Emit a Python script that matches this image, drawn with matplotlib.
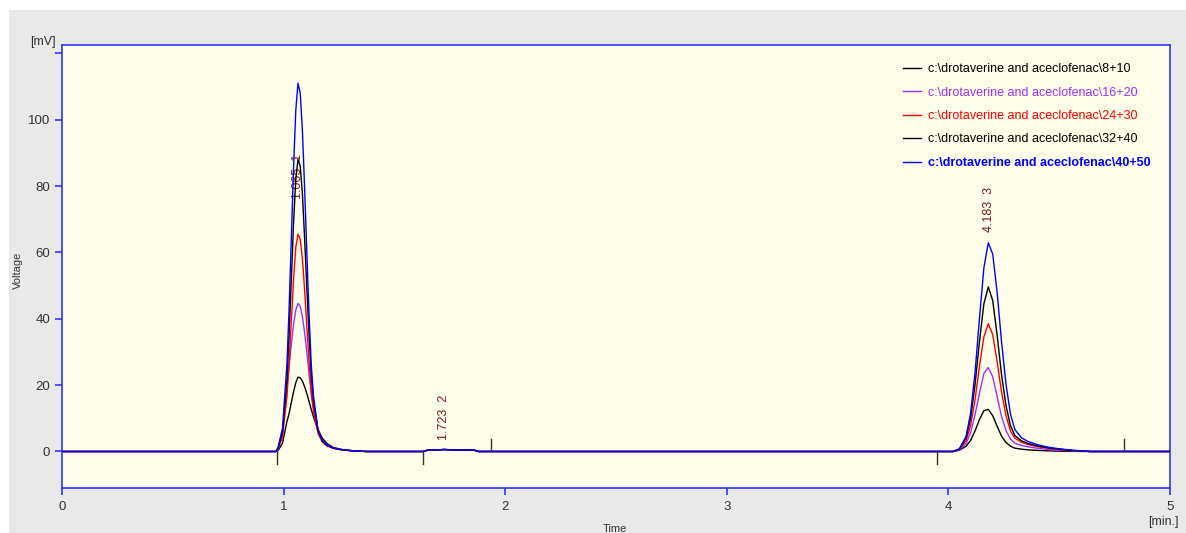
import matplotlib.pyplot as plt
from matplotlib.patches import Rectangle

# ------------------------------------------------------------
# Chromatogram: drotaverine and aceclofenac, 5 concentrations
# ------------------------------------------------------------

series_names = ['c:\\drotaverine and aceclofenac\\8+10',
                'c:\\drotaverine and aceclofenac\\16+20',
                'c:\\drotaverine and aceclofenac\\24+30',
                'c:\\drotaverine and aceclofenac\\32+40',
                'c:\\drotaverine and aceclofenac\\40+50']
series_colors = ['#000000', '#9b30ff', '#ff0000', '#000000', '#0000ff']

# flat baseline before the first peak
base_time = [0.0, 0.965]
base_volt = [0.0, 0.0]

# peak 1 (around 1.065 min)
pk1_time = [0.975, 0.995, 1.015, 1.025, 1.035, 1.045, 1.055, 1.065, 1.075,
            1.085, 1.095, 1.105, 1.115, 1.125, 1.135, 1.155, 1.175, 1.195,
            1.225, 1.265, 1.315, 1.375]
pk1_8_10 = [0.3, 2.5, 9.0, 11.5, 14.8, 18.0, 20.7, 22.4, 22.2, 21.2, 19.5,
            17.4, 15.0, 12.6, 10.4, 6.6, 4.0, 2.4, 1.2, 0.5, 0.2, 0.0]
pk1_16_20 = [0.5, 6.0, 19.2, 25.7, 32.4, 38.4, 42.6, 44.6, 43.8, 40.7, 35.7,
             29.7, 23.2, 17.2, 12.9, 6.2, 3.1, 1.8, 1.0, 0.45, 0.2, 0.0]
pk1_24_30 = [0.8, 4.5, 16.5, 27.0, 39.5, 52.0, 61.5, 65.5, 64.0, 58.0, 48.5,
             37.5, 27.0, 18.0, 12.0, 5.5, 2.8, 1.7, 0.9, 0.5, 0.2, 0.0]
pk1_32_40 = [1.0, 5.8, 21.5, 35.5, 52.0, 69.0, 82.0, 88.0, 86.0, 77.5, 64.0,
             49.0, 35.0, 23.0, 15.0, 6.5, 3.2, 1.9, 1.0, 0.5, 0.2, 0.0]
pk1_40_50 = [1.2, 7.0, 26.2, 43.3, 64.3, 85.7, 102.8, 111.0, 108.0, 96.5,
             79.0, 59.4, 41.0, 25.9, 16.7, 6.7, 3.3, 2.0, 1.1, 0.6, 0.2, 0.0]

# peak 2 (tiny, 1.723 min) - same for all runs
pk2_time = [1.63, 1.65, 1.70, 1.723, 1.76, 1.86, 1.88]
pk2_volt = [0.0, 0.4, 0.5, 0.6, 0.5, 0.4, 0.0]

# peak 3 (around 4.183 min)
pk3_time = [4.02, 4.05, 4.08, 4.10, 4.12, 4.14, 4.16, 4.18, 4.20, 4.22, 4.24,
            4.26, 4.28, 4.30, 4.33, 4.36, 4.40, 4.45, 4.50, 4.56, 4.64]
pk3_8_10 = [0.0, 0.4, 1.6, 3.3, 6.2, 9.6, 12.3, 12.7, 10.8, 7.6, 4.6, 2.7,
            1.6, 1.0, 0.7, 0.5, 0.35, 0.2, 0.1, 0.05, 0.0]
pk3_16_20 = [0.0, 0.5, 2.4, 5.6, 11.0, 17.5, 23.5, 25.3, 22.5, 16.5, 10.5,
             6.3, 3.8, 2.5, 1.8, 1.4, 1.0, 0.6, 0.4, 0.2, 0.0]
pk3_24_30 = [0.0, 0.6, 3.3, 7.8, 15.5, 25.6, 34.5, 38.5, 35.2, 27.0, 17.8,
             10.8, 6.2, 4.0, 2.8, 2.1, 1.5, 1.0, 0.6, 0.3, 0.0]
pk3_32_40 = [0.0, 0.8, 4.2, 10.0, 20.0, 33.0, 44.5, 49.6, 45.5, 35.0, 23.0,
             13.8, 7.8, 4.8, 3.2, 2.4, 1.7, 1.1, 0.7, 0.3, 0.0]
pk3_40_50 = [0.0, 0.8, 4.6, 11.5, 23.6, 39.9, 55.3, 62.9, 59.5, 47.9, 32.9,
             20.2, 11.3, 6.6, 4.1, 3.0, 2.1, 1.3, 0.8, 0.4, 0.0]

pk1_all = [pk1_8_10, pk1_16_20, pk1_24_30, pk1_32_40, pk1_40_50]
pk3_all = [pk3_8_10, pk3_16_20, pk3_24_30, pk3_32_40, pk3_40_50]

# peak labels: (time, bottom of text in mV, text)
peak_labels = [(1.065, 76, '1.065  1'), (1.723, 3.6, '1.723  2'), (4.183, 66, '4.183  3')]
# integration marks: (time, direction)
mark_times = [0.969, 1.628, 1.935, 3.947, 4.791]
mark_dirs = [-1, -1, 1, -1, 1]

plt.rcParams['font.family'] = ['Liberation Sans', 'DejaVu Sans']

fig = plt.figure(figsize=(11.86, 5.33), dpi=100, facecolor='white')
fig.patches.append(Rectangle((9 / 1186, 0), 1, 1 - 10 / 533, transform=fig.transFigure,
                             facecolor='#e9e9e9', edgecolor='none', zorder=-10))
ax = fig.add_axes([62 / 1186, 45 / 533, (1170 - 62) / 1186, (488 - 45) / 533])
ax.set_facecolor('#fdfde9')

for i in range(len(series_names)):
    t = base_time + pk1_time + pk2_time + pk3_time + [5.0]
    v = base_volt + pk1_all[i] + pk2_volt + pk3_all[i] + [0.0]
    ax.plot(t, v, color=series_colors[i], linewidth=1.0, label=series_names[i], zorder=3 + i)

for x, y, s in peak_labels:
    ax.text(x, y, s, rotation=90, ha='center', va='bottom', fontsize=9,
            color='#7a1a1a', zorder=2)

for x, d in zip(mark_times, mark_dirs):
    ax.plot([x, x], [0, 3.7 * d], color='#333333', linewidth=1.0, zorder=9)

ax.set_xlim(0, 5)
ax.set_ylim(-11, 122.5)
ax.set_xticks([0, 1, 2, 3, 4, 5])
ax.set_yticks([0, 20, 40, 60, 80, 100, 120])
ax.set_yticklabels(['0', '20', '40', '60', '80', '100', ''])
ax.tick_params(colors='#3333ff', labelcolor='#333333', labelsize=9.5, length=5, width=1.2)
ax.tick_params(axis='x', pad=4)
for sp in ax.spines.values():
    sp.set_color('#3333ff')
    sp.set_linewidth(1.2)

leg = ax.legend(loc='upper left', bbox_to_anchor=(903 / 1186, 1 - 63 / 533),
                bbox_transform=fig.transFigure, frameon=False, fontsize=9,
                handlelength=1.4, handletextpad=0.6, labelspacing=0.92,
                borderpad=0, borderaxespad=0)
for txt, c in zip(leg.get_texts(), series_colors):
    txt.set_color(c)
leg.get_texts()[-1].set_fontweight('bold')

fig.text(56 / 1186, 1 - 42 / 533, '[mV]', ha='right', va='center', fontsize=9, color='#333333')
fig.text(18 / 1186, 1 - 270 / 533, 'Voltage', rotation=90, ha='center', va='center',
         fontsize=8, color='#333333')
fig.text(615 / 1186, 1 - 529 / 533, 'Time', ha='center', va='center', fontsize=8, color='#333333')
fig.text(1163 / 1186, 1 - 522 / 533, '[min.]', ha='center', va='center', fontsize=9, color='#333333')

fig.savefig('out.png', dpi=100)
